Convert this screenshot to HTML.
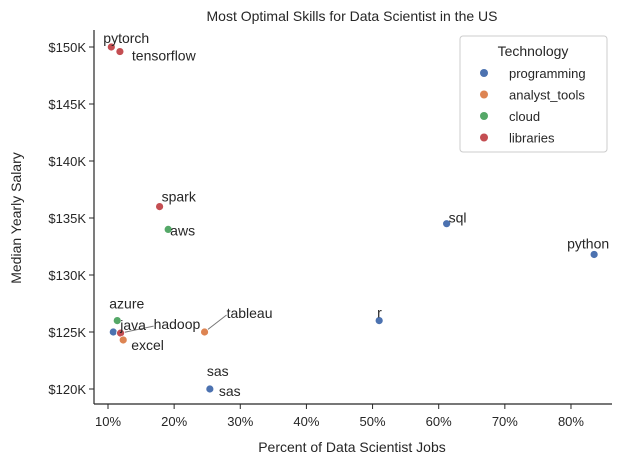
<!DOCTYPE html>
<html><head><meta charset="utf-8"><style>
body{margin:0;background:#fff;font-family:"Liberation Sans","DejaVu Sans",sans-serif;}
svg text{font-family:"Liberation Sans","DejaVu Sans",sans-serif;fill:#262626;}
</style></head><body>
<svg id="chart" width="623" height="464">
<text x="352" y="21" font-size="14" text-anchor="middle">Most Optimal Skills for Data Scientist in the US</text>
<text x="352" y="452" font-size="14" text-anchor="middle">Percent of Data Scientist Jobs</text>
<text x="21" y="218" font-size="14" text-anchor="middle" transform="rotate(-90 21 218)">Median Yearly Salary</text>
<line x1="94" y1="30" x2="94" y2="404" stroke="#262626" stroke-width="1.2"/>
<line x1="94" y1="404" x2="612" y2="404" stroke="#262626" stroke-width="1.2"/>
<g id="xt"></g><g id="yt"></g><g id="lines"></g><g id="pts"></g><g id="lbls"></g>
<g>
<rect x="460" y="36" width="147" height="116" rx="3" fill="#fff" stroke="#ccc"/>
<text x="533" y="56" font-size="14" text-anchor="middle">Technology</text>
<g id="leg"></g>
</g>
</svg>
<script>
const categories=["pytorch","tensorflow","spark","aws","sql","python","r","azure","java","hadoop","excel","tableau","sas","sas"];
const percents=[10.5,11.8,17.8,19.1,61.2,83.5,51.0,11.4,10.8,11.9,12.3,24.6,25.4,25.4];
const salaries=[150000,149600,136000,134000,134500,131800,126000,126000,125000,124900,124300,125000,120000,120000];
const techs=["libraries","libraries","libraries","cloud","programming","programming","programming","cloud","programming","libraries","analyst_tools","analyst_tools","programming","programming"];
const labelOffsets=[[-8,-9],[12,4],[2,-10],[2,1],[2,-6],[-27,-11],[-2,-8],[-8,-17],[7,-7],[33,-9],[8,5],[22,-19],[9,2],[-3,-18]];
const xTicks=[10,20,30,40,50,60,70,80];
const yTicks=[120000,125000,130000,135000,140000,145000,150000];
const legendTechs=["programming","analyst_tools","cloud","libraries"];
const colors={programming:"#4c72b0",analyst_tools:"#dd8452",cloud:"#55a868",libraries:"#c44e52"};
const X=v=>41.86+v*6.614, Y=v=>47+(150000-v)*0.0114;
const NS="http://www.w3.org/2000/svg";
function mk(t,a,p){const e=document.createElementNS(NS,t);for(const k in a)e.setAttribute(k,a[k]);p.appendChild(e);return e;}
const xt=document.getElementById('xt'),yt=document.getElementById('yt');
xTicks.forEach(v=>{const x=X(v);
 const l=mk('line',{x1:x,y1:404,x2:x,y2:409,stroke:'#262626'},xt);
 
 
 const t=mk('text',{x:x,y:426,'font-size':13,'text-anchor':'middle'},xt);t.textContent=v+'%';
 
 });
yTicks.forEach(v=>{const y=Y(v);
 const l=mk('line',{x1:89,y1:y,x2:94,y2:y,stroke:'#262626'},yt);
 
 
 const t=mk('text',{x:86,y:y+5,'font-size':13,'text-anchor':'end'},yt);t.textContent='$'+(v/1000)+'K';
 
 });
const pts=document.getElementById('pts'),lb=document.getElementById('lbls'),ln=document.getElementById('lines');
categories.forEach((c,i)=>{const x=X(percents[i]),y=Y(salaries[i]);
 const p=mk('circle',{cx:x,cy:y,r:4,fill:colors[techs[i]],stroke:'#fff','stroke-width':0.8},pts);
 
 
 const o=labelOffsets[i];
 const t=mk('text',{x:x+o[0],y:y+o[1]+5,'font-size':14},lb);t.textContent=c;
 
 
 if(c==='tableau'||c==='hadoop'){const a=mk('line',{x1:x,y1:y,x2:x+o[0],y2:y+o[1]+2,stroke:'#777','stroke-width':1},ln);
 
 }});
const lg=document.getElementById('leg');
legendTechs.forEach((t,i)=>{const y=73+i*21.5;
 const c=mk('circle',{cx:484,cy:y,r:4,fill:colors[t]},lg);
 
 
 const tx=mk('text',{x:509,y:y+5,'font-size':13},lg);tx.textContent=t;
 
 });
</script>
</body></html>
